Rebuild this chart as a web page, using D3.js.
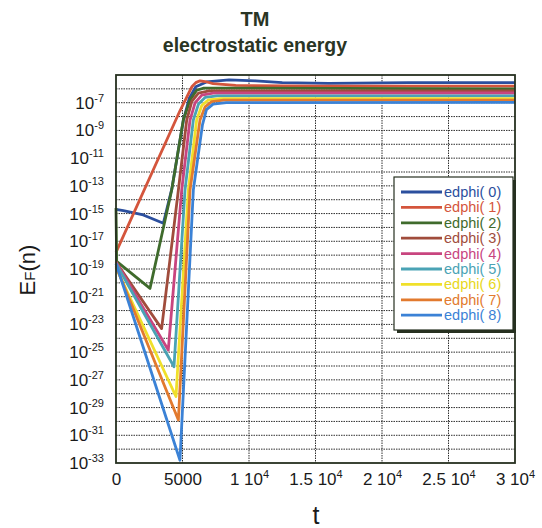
<!DOCTYPE html>
<html>
<head>
<meta charset="utf-8">
<script src="https://cdn.jsdelivr.net/npm/d3@7"></script>
<style>
body { margin: 0; background: #fff; }
text { font-family: "Liberation Sans", Arial, sans-serif; }
</style>
</head>
<body>
<script>
(function(){

//series names and colours
var names = ["edphi( 0)", "edphi( 1)", "edphi( 2)", "edphi( 3)", "edphi( 4)",
             "edphi( 5)", "edphi( 6)", "edphi( 7)", "edphi( 8)"];
var colors = ["#2b4f9e", "#d4553c", "#3f6b2c", "#a04c3c", "#c8457f",
              "#4aa3b5", "#f0e02a", "#e27a2e", "#3b82d6"];

//each series: [t, log10 of E_F(n)]
var edphi0 = [[0,-14.7],[550,-14.78],[2050,-15.1],[3560,-15.7],[4200,-13.2],[5060,-8.3],[5500,-6.7],[6000,-5.85],[6800,-5.5],[8500,-5.35],[10500,-5.42],[12500,-5.55],[16000,-5.6],[22000,-5.55],[30000,-5.55]];
var edphi1 = [[0,-17.8],[4800,-7.6],[5700,-5.85],[6000,-5.55],[6320,-5.42],[6700,-5.47],[7300,-5.62],[9000,-5.75],[15000,-5.8],[30000,-5.8]];
var edphi2 = [[0,-14.6],[50,-18.45],[2556,-20.4],[4188,-13.3],[5060,-8.25],[5565,-6.8],[6065,-6.1],[6600,-5.95],[9000,-5.95],[30000,-6.0]];
var edphi3 = [[0,-18.5],[3430,-23.3],[4690,-13.3],[5316,-8.25],[5700,-6.9],[6200,-6.3],[7000,-6.15],[30000,-6.15]];
var edphi4 = [[0,-18.5],[3930,-24.85],[4940,-13.3],[5565,-8.25],[5950,-7.0],[6450,-6.45],[7300,-6.3],[30000,-6.3]];
var edphi5 = [[0,-18.6],[4360,-26.05],[5188,-13.3],[5815,-8.25],[6200,-7.1],[6700,-6.62],[7600,-6.5],[30000,-6.5]];
var edphi6 = [[0,-18.9],[4510,-28.2],[5440,-13.3],[6065,-8.25],[6450,-7.2],[6950,-6.8],[7900,-6.7],[30000,-6.7]];
var edphi7 = [[0,-18.8],[4690,-29.9],[5565,-13.3],[6316,-8.25],[6700,-7.3],[7200,-6.92],[8100,-6.82],[30000,-6.82]];
var edphi8 = [[0,-18.6],[4810,-32.8],[5815,-13.3],[6500,-8.6],[6800,-7.5],[7300,-7.1],[8300,-7.0],[30000,-6.97]];
var series = [edphi0, edphi1, edphi2, edphi3, edphi4, edphi5, edphi6, edphi7, edphi8];

//tick labels
var xTicks = [0, 5000, 10000, 15000, 20000, 25000, 30000];
var xTickMant = ["0", "5000", "1 10", "1.5 10", "2 10", "2.5 10", "3 10"];
var xTickExp = ["", "", "4", "4", "4", "4", "4"];
var yTickExps = [-7, -9, -11, -13, -15, -17, -19, -21, -23, -25, -27, -29, -31, -33];

var width = 542, height = 528;
var left = 116, right = 515, top = 75, bottom = 463;

var svg = d3.select("body").append("svg")
    .attr("width", width)
    .attr("height", height);

var x = d3.scaleLinear().domain([0, 30000]).range([left, right]);
var y = d3.scaleLog().domain([1e-33, 1e-5]).range([bottom, top]);

//dotted grid
var gridH = d3.range(-32, -5).map(function(e){ return Math.pow(10, e); });
svg.selectAll(".gridH")
    .data(gridH)
    .enter()
    .append("line")
    .attr("class", "gridH")
    .attr("x1", left).attr("x2", right)
    .attr("y1", function(d){ return y(d); })
    .attr("y2", function(d){ return y(d); })
    .attr("stroke", "#2e2e2e")
    .attr("stroke-width", 1)
    .attr("stroke-dasharray", "1.5,1");

svg.selectAll(".gridV")
    .data(xTicks.slice(1, -1))
    .enter()
    .append("line")
    .attr("class", "gridV")
    .attr("y1", top).attr("y2", bottom)
    .attr("x1", function(d){ return x(d); })
    .attr("x2", function(d){ return x(d); })
    .attr("stroke", "#2e2e2e")
    .attr("stroke-width", 1)
    .attr("stroke-dasharray", "1.5,1");

//curves
var line = d3.line()
    .x(function(d){ return x(d[0]); })
    .y(function(d){ return y(Math.pow(10, d[1])); });

var plot = svg.append("g");
plot.selectAll(".curve")
    .data(series)
    .enter()
    .append("path")
    .attr("class", "curve")
    .attr("d", line)
    .attr("fill", "none")
    .attr("stroke", function(d, i){ return colors[i]; })
    .attr("stroke-width", 2.8)
    .attr("stroke-linejoin", "round");

//frame
svg.append("rect")
    .attr("x", left).attr("y", top)
    .attr("width", right - left).attr("height", bottom - top)
    .attr("fill", "none")
    .attr("stroke", "#263020")
    .attr("stroke-width", 1.8);

//x axis labels
var xAxis = d3.axisBottom(x)
    .tickValues(xTicks)
    .tickSize(0)
    .tickFormat(function(){ return ""; });
var gx = svg.append("g")
    .attr("transform", "translate(0," + bottom + ")")
    .call(xAxis);
gx.select(".domain").remove();
gx.selectAll(".tick text").each(function(d, i){
    var t = d3.select(this)
        .attr("y", 22)
        .attr("dy", 0)
        .attr("fill", "#1a1a1a")
        .attr("font-size", 17)
        .attr("font-family", "Liberation Sans, Arial, sans-serif");
    t.append("tspan").text(xTickMant[i]);
    if (xTickExp[i]) {
        t.append("tspan").attr("dy", -7).attr("font-size", 11).text(xTickExp[i]);
    }
});

//y axis labels
var yl = svg.selectAll(".ylab")
    .data(yTickExps)
    .enter()
    .append("text")
    .attr("class", "ylab")
    .attr("x", 104)
    .attr("y", function(d){ return y(Math.pow(10, d)) + 6; })
    .attr("text-anchor", "end")
    .attr("fill", "#1a1a1a")
    .attr("font-size", 17);
yl.append("tspan").text("10");
yl.append("tspan").attr("dy", -7).attr("font-size", 11)
    .text(function(d){ return "-" + Math.abs(d); });

//titles
svg.append("text")
    .attr("x", 255).attr("y", 26)
    .attr("text-anchor", "middle")
    .attr("font-size", 20).attr("font-weight", "bold")
    .attr("fill", "#2a3524")
    .text("TM");
svg.append("text")
    .attr("x", 255).attr("y", 52)
    .attr("text-anchor", "middle")
    .attr("font-size", 19.5).attr("font-weight", "bold")
    .attr("fill", "#2a3524")
    .text("electrostatic energy");

//axis titles
svg.append("text")
    .attr("x", 316).attr("y", 524)
    .attr("text-anchor", "middle")
    .attr("font-size", 25)
    .attr("fill", "#1a1a1a")
    .text("t");
var ylab = svg.append("text")
    .attr("transform", "translate(35,270) rotate(-90)")
    .attr("text-anchor", "middle")
    .attr("font-size", 22)
    .attr("fill", "#1a1a1a");
ylab.append("tspan").text("E");
ylab.append("tspan").attr("font-size", 15).text("F");
ylab.append("tspan").text("(n)");

//legend
var lgX = 394, lgY = 177, lgW = 119, lgH = 153;
svg.append("rect")
    .attr("x", lgX + 3).attr("y", lgY + 3)
    .attr("width", lgW).attr("height", lgH)
    .attr("fill", "#263020");
svg.append("rect")
    .attr("x", lgX).attr("y", lgY)
    .attr("width", lgW).attr("height", lgH)
    .attr("fill", "#fff")
    .attr("stroke", "#263020")
    .attr("stroke-width", 1.2);

var lg = svg.selectAll(".lg")
    .data(names)
    .enter()
    .append("g")
    .attr("class", "lg")
    .attr("transform", function(d, i){ return "translate(" + lgX + "," + (lgY + 15 + i * 15.4) + ")"; });
lg.append("line")
    .attr("x1", 7).attr("x2", 48)
    .attr("stroke", function(d, i){ return colors[i]; })
    .attr("stroke-width", 2.8);
lg.append("text")
    .attr("x", 50).attr("y", 5)
    .attr("font-size", 14.5)
    .attr("fill", function(d, i){ return colors[i] === "#f0e02a" ? "#e8d820" : colors[i]; })
    .text(function(d){ return d; });

})();
</script>
</body>
</html>
